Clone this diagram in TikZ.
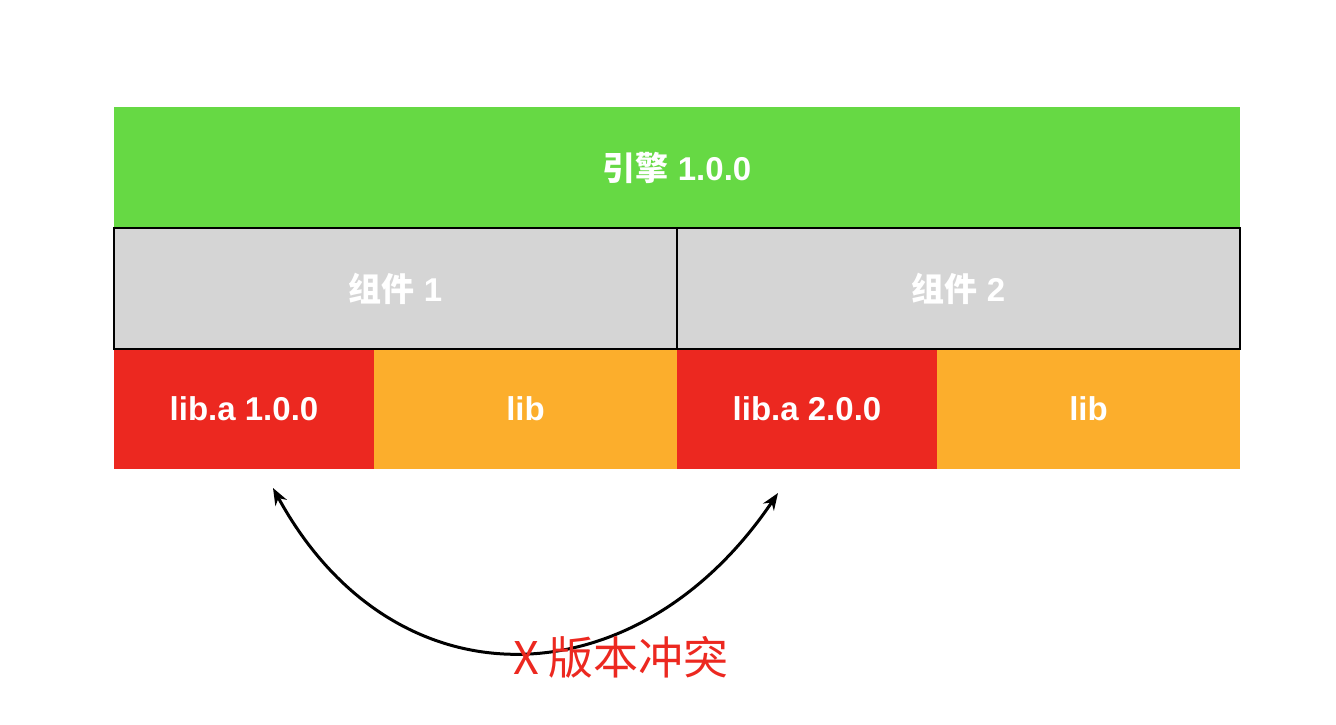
\documentclass[tikz,border=0pt]{standalone}
\usepackage{fontspec}
\setmainfont{Liberation Sans}
\newfontfamily\cjk{Noto Sans CJK SC}
\usetikzlibrary{arrows.meta,positioning}

\definecolor{EngineGreen}{HTML}{66D944}
\definecolor{CompGray}{HTML}{D5D5D5}
\definecolor{LibRed}{HTML}{EC2820}
\definecolor{LibOrange}{HTML}{FCAE2C}

\begin{document}
\begin{tikzpicture}[x=1pt,y=-1pt]
			\tikzstyle{Block}	= [rectangle, inner sep=0pt, text=white, font=\fontsize{33}{36}\selectfont\bfseries]
			\tikzstyle{Engine}	= [Block, fill=EngineGreen, minimum width=1126pt, minimum height=121pt]
			\tikzstyle{Comp}	= [Block, fill=CompGray, draw=black, line width=2pt, minimum width=563pt, minimum height=121pt]
			\tikzstyle{LibA}	= [Block, fill=LibRed, minimum width=260pt, minimum height=120pt]
			\tikzstyle{Lib}		= [Block, fill=LibOrange, minimum width=303pt, minimum height=120pt]
			\tikzstyle{Conflict}	= [line width=3pt, {Stealth[length=17pt,width=13pt]}-{Stealth[length=17pt,width=13pt]}]

			\useasboundingbox (0,0) rectangle (1336,724);

			\node (engine) at (677,167.5) [Engine] {{\cjk\bfseries 引擎} 1.0.0};

			\node (liba1) at (244,409) [LibA] {lib.a 1.0.0};
			\node (lib1) at (525.5,409) [Lib] {lib};
			\node (liba2) at (807,409) [LibA] {lib.a 2.0.0};
			\node (lib2) at (1088.5,409) [Lib] {lib};

			\node (comp1) at (395.5,288.5) [Comp] {{\cjk\bfseries 组件} 1};
			\node (comp2) at (958.5,288.5) [Comp] {{\cjk\bfseries 组件} 2};

			\coordinate (tip1) at (273,488);
			\coordinate (tip2) at (778,493);
			\draw [Conflict] (tip1) .. controls (394,710) and (637,702) .. (tip2);

			\node (label) at (621,657) [text=LibRed, font=\fontsize{45}{49}\selectfont\cjk] {X 版本冲突};
		\end{tikzpicture}
\end{document}
